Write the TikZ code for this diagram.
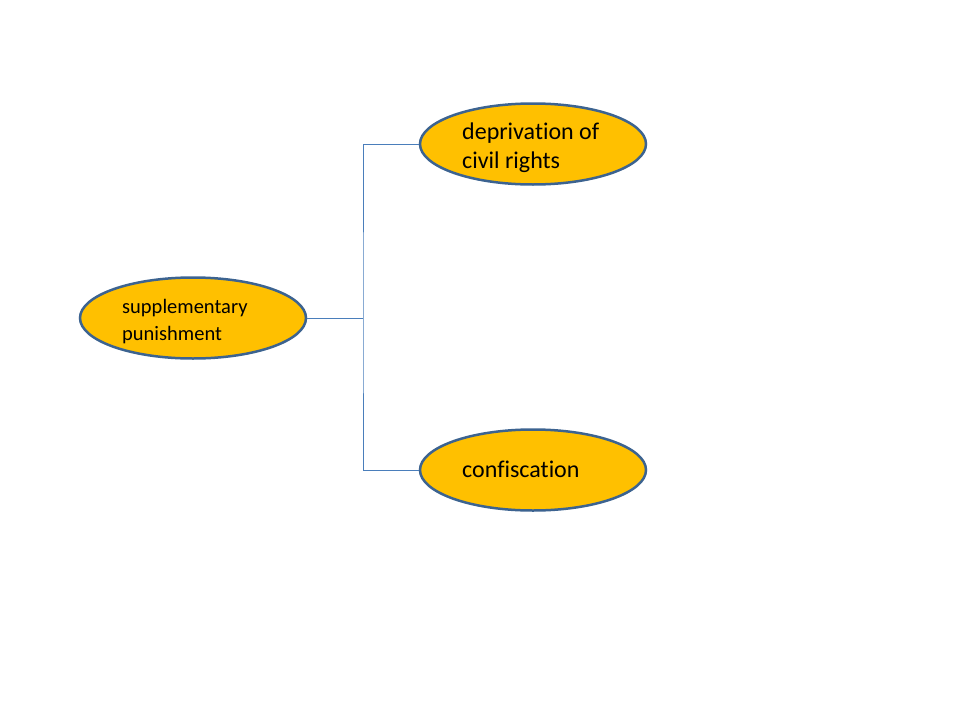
\documentclass[tikz,border=0pt]{standalone}
\usepackage{fontspec}
\setmainfont{Carlito}[RawFeature={-liga;-dlig;-clig}]
\usetikzlibrary{shapes.geometric}
\definecolor{gold}{HTML}{FFC000}
\definecolor{rim}{HTML}{3C6390}
\definecolor{wire}{HTML}{4A7EBB}
\tikzset{
  oval/.style={ellipse, draw=rim, line width=2.5pt, fill=gold, minimum width=226pt, minimum height=81pt, inner sep=0pt},
  lbl/.style={anchor=west, align=left, inner sep=0pt, text=black},
  wirestyle/.style={draw=wire, line width=1pt}
}
\begin{document}
\begin{tikzpicture}[x=1pt,y=-1pt]
\useasboundingbox (0,0) rectangle (960,720);
\node[oval] (sup) at (193,318) {};
\node[oval] (dep) at (533,144) {};
\node[oval] (con) at (533,470) {};
\node[lbl, font=\fontsize{20.5}{27}\selectfont] (supt) at (122,322) {supplementary\\punishment};
\node[lbl, font=\fontsize{24}{29}\selectfont] (dept) at (462,148) {deprivation of\\civil rights};
\node[lbl, font=\fontsize{24}{29}\selectfont] (cont) at (462,469) {confiscation};
\coordinate (j) at (363,318);
\draw[wirestyle] (sup.east) -- (j);
\draw[wirestyle] (dep.west) -| (j) |- (con.west);
\end{tikzpicture}
\end{document}
